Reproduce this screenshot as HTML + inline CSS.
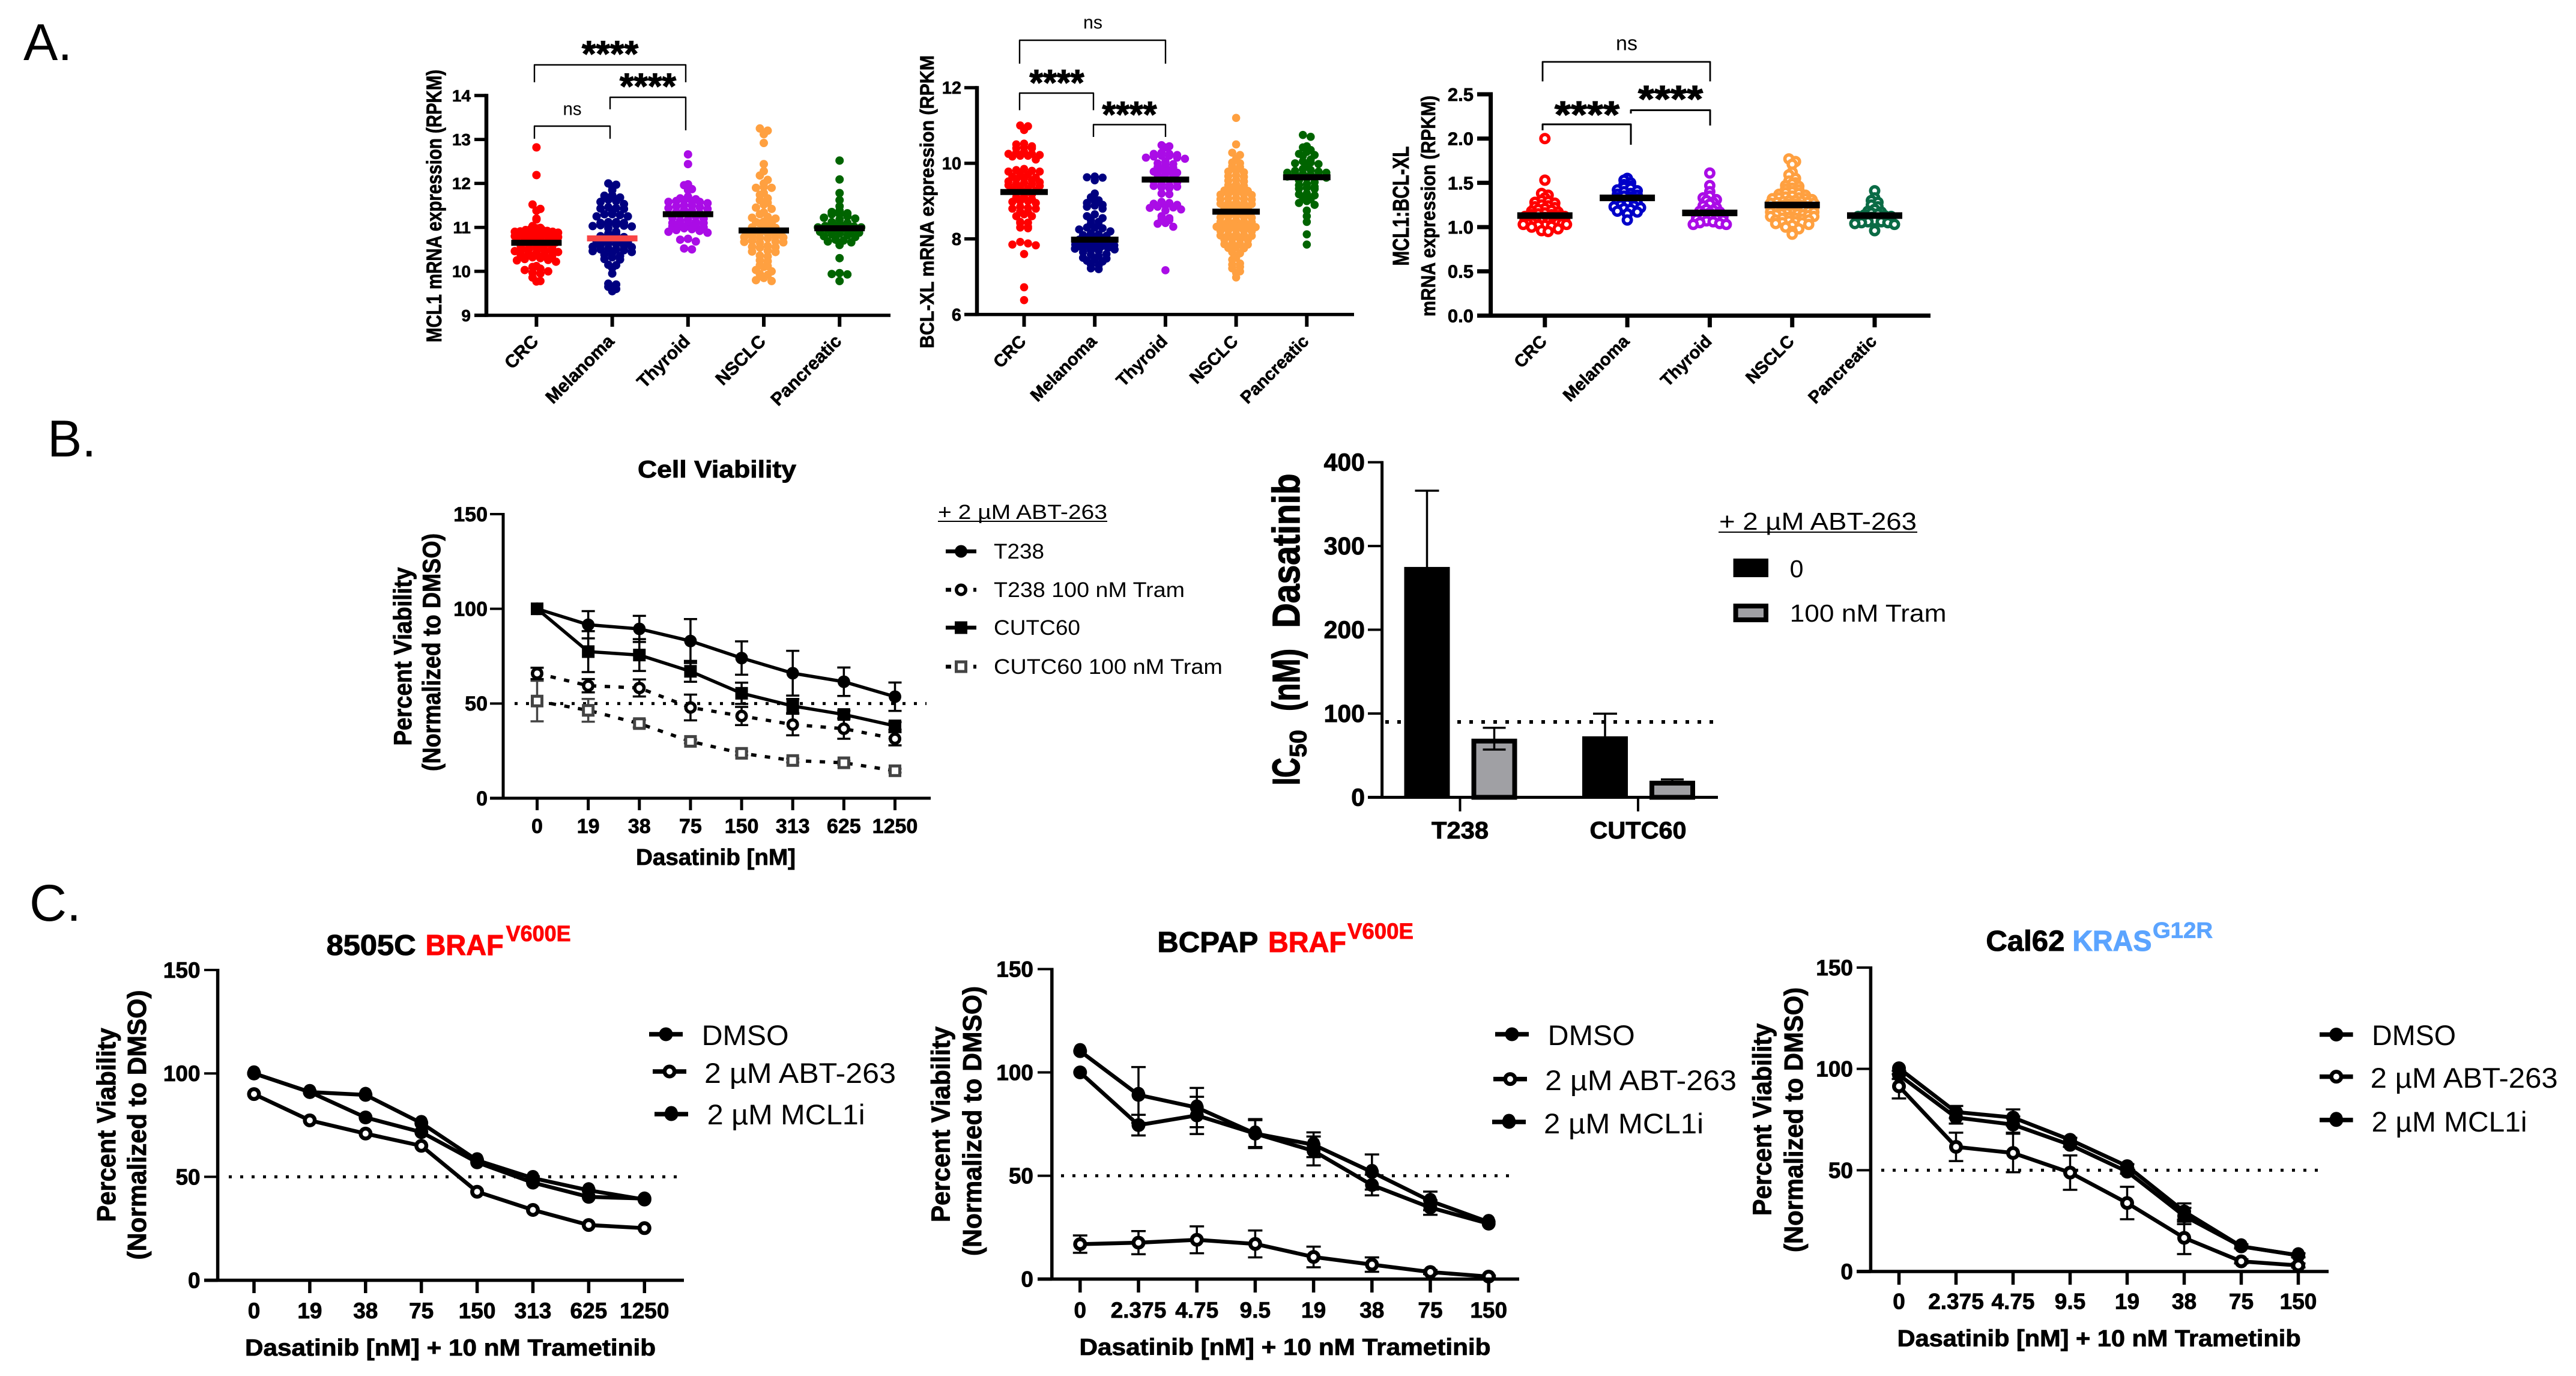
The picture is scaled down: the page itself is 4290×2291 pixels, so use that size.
<!DOCTYPE html>
<html lang="en">
<head>
<meta charset="utf-8">
<title>Dasatinib and BCL-XL / MCL1 figure</title>
<style>
html,body{margin:0;padding:0;background:#fff;}
svg{display:block;font-family:"Liberation Sans",Arial,sans-serif;}
</style>
</head>
<body>
<svg id="fig" xmlns="http://www.w3.org/2000/svg" width="4290" height="2291" viewBox="0 0 4290 2291">
  <rect x="0" y="0" width="4290" height="2291" fill="#ffffff"/>
  <text x="39" y="100" font-size="86" fill="#000">A.</text>
  <text x="79" y="760" font-size="86" fill="#000">B.</text>
  <text x="49" y="1533" font-size="86" fill="#000">C.</text>
  <g id="a1"></g>
  <g id="a2"></g>
  <g id="a3"></g>
  <g id="b1"></g>
  <g id="b2"></g>
  <g id="c1"></g>
  <g id="c2"></g>
  <g id="c3"></g>
</svg>
<script>
/* ---------- Panel A data ---------- */
const swarmCategories = ["CRC","Melanoma","Thyroid","NSCLC","Pancreatic"];

const mcl1Ticks = [9,10,11,12,13,14];
const mcl1Means = [10.65,10.75,11.3,10.93,10.98];
const mcl1Crc = [12.82,12.19,11.52,11.42,11.38,11.2,11.18,11.03,10.99,10.98,10.97,10.95,10.94,10.92,10.91,10.9,10.9,10.88,10.87,10.85,10.84,10.82,10.8,10.8,10.78,10.75,10.74,10.72,10.7,10.68,10.66,10.65,10.62,10.6,10.58,10.55,10.54,10.52,10.5,10.5,10.48,10.46,10.44,10.42,10.4,10.38,10.37,10.35,10.32,10.3,10.28,10.26,10.25,10.22,10.12,10.1,10.06,10.03,10.0,9.97,9.95,9.86,9.78,9.77];
const mcl1Mel = [12.0,11.97,11.93,11.85,11.73,11.72,11.68,11.63,11.6,11.58,11.53,11.46,11.44,11.43,11.42,11.35,11.3,11.3,11.28,11.25,11.25,11.12,11.12,11.1,11.1,11.08,11.06,11.05,11.04,11.03,11.02,10.98,10.9,10.86,10.85,10.8,10.78,10.76,10.72,10.7,10.68,10.66,10.63,10.62,10.6,10.58,10.56,10.55,10.52,10.5,10.5,10.48,10.46,10.44,10.42,10.38,10.35,10.32,10.28,10.27,10.15,10.14,10.08,9.95,9.72,9.7,9.65,9.6,9.55];
const mcl1Thy = [12.66,12.44,11.98,11.96,11.87,11.85,11.7,11.66,11.64,11.62,11.6,11.6,11.58,11.58,11.55,11.5,11.5,11.48,11.46,11.44,11.42,11.4,11.38,11.35,11.32,11.3,11.28,11.25,11.22,11.2,11.18,11.15,11.12,11.1,11.1,11.08,11.06,11.05,11.02,11.0,10.98,10.96,10.94,10.92,10.9,10.88,10.74,10.72,10.68,10.52,10.5];
const mcl1Nsclc = [13.25,13.2,13.12,12.92,12.44,12.28,12.18,12.08,12.0,11.92,11.9,11.9,11.78,11.74,11.66,11.62,11.56,11.52,11.45,11.42,11.34,11.3,11.24,11.22,11.2,11.13,11.12,11.1,11.09,11.02,11.0,10.99,10.98,10.92,10.9,10.89,10.88,10.87,10.86,10.8,10.79,10.78,10.77,10.76,10.75,10.7,10.68,10.67,10.66,10.65,10.58,10.56,10.55,10.54,10.47,10.45,10.44,10.36,10.34,10.25,10.23,10.14,10.12,10.1,10.03,10.0,9.94,9.92,9.85,9.8,9.78];
const mcl1Panc = [12.52,12.09,11.78,11.62,11.48,11.38,11.35,11.32,11.3,11.3,11.25,11.22,11.2,11.18,11.12,11.1,11.08,11.07,11.05,11.03,11.02,11.0,11.0,10.98,10.97,10.95,10.92,10.9,10.88,10.86,10.84,10.82,10.8,10.78,10.72,10.7,10.68,10.66,10.6,10.3,9.96,9.94,9.93,9.78];

const bclTicks = [6,8,10,12];
const bclMeans = [9.24,7.98,9.57,8.72,9.63];
const bclCrc = [11.0,10.98,10.88,10.52,10.5,10.45,10.42,10.4,10.4,10.3,10.28,10.25,10.25,10.22,10.2,10.2,10.18,10.1,9.85,9.82,9.8,9.78,9.78,9.72,9.7,9.65,9.62,9.6,9.58,9.55,9.52,9.5,9.48,9.45,9.45,9.42,9.4,9.35,9.32,9.3,9.28,9.25,9.2,9.18,9.12,9.1,9.05,9.0,9.0,8.98,8.95,8.85,8.82,8.8,8.8,8.72,8.7,8.65,8.6,8.6,8.45,8.43,8.42,8.32,8.3,8.28,7.92,7.88,7.85,7.83,7.6,6.72,6.38];
const bclMel = [9.65,9.63,9.62,9.55,9.2,9.1,9.02,9.0,8.95,8.9,8.88,8.85,8.8,8.65,8.6,8.55,8.5,8.45,8.4,8.35,8.3,8.3,8.28,8.25,8.2,8.15,8.12,8.1,8.08,8.05,8.02,8.0,7.98,7.95,7.92,7.9,7.88,7.86,7.85,7.83,7.82,7.8,7.8,7.78,7.76,7.74,7.72,7.7,7.68,7.65,7.6,7.58,7.55,7.5,7.48,7.45,7.42,7.4,7.32,7.3,7.22,7.2];
const bclThy = [10.48,10.45,10.42,10.28,10.25,10.25,10.22,10.2,10.2,10.18,10.15,10.15,10.12,10.05,10.0,9.98,9.95,9.9,9.88,9.85,9.82,9.78,9.75,9.72,9.7,9.68,9.6,9.55,9.52,9.5,9.45,9.42,9.4,9.38,9.36,9.34,9.2,9.18,8.98,8.95,8.93,8.9,8.88,8.85,8.83,8.82,8.78,8.75,8.6,8.55,8.52,8.5,8.42,8.4,8.32,7.17];
const bclNsclc = [11.2,10.5,10.28,10.22,10.12,10.02,10.0,9.92,9.9,9.8,9.78,9.76,9.68,9.66,9.64,9.56,9.54,9.52,9.44,9.42,9.4,9.32,9.3,9.28,9.27,9.2,9.19,9.18,9.17,9.16,9.08,9.07,9.06,9.05,9.04,8.96,8.95,8.94,8.93,8.92,8.84,8.83,8.82,8.81,8.72,8.71,8.7,8.69,8.6,8.59,8.58,8.57,8.56,8.48,8.47,8.46,8.45,8.44,8.36,8.35,8.34,8.33,8.32,8.31,8.24,8.23,8.22,8.21,8.2,8.12,8.11,8.1,8.09,8.08,8.0,7.99,7.98,7.97,7.88,7.87,7.86,7.85,7.78,7.76,7.75,7.65,7.62,7.5,7.45,7.35,7.32,7.26,7.22,7.14,7.1,6.98];
const bclPanc = [10.75,10.7,10.45,10.42,10.35,10.3,10.25,10.22,10.2,10.1,10.05,10.02,10.0,9.98,9.95,9.85,9.82,9.8,9.78,9.75,9.75,9.72,9.7,9.7,9.68,9.65,9.62,9.6,9.55,9.5,9.45,9.42,9.38,9.35,9.33,9.32,9.2,9.18,9.15,9.1,9.05,9.0,8.95,8.9,8.75,8.6,8.45,8.12,7.85];

const ratioTicks = [0,0.5,1.0,1.5,2.0,2.5];
const ratioMeans = [1.13,1.33,1.16,1.25,1.13];
const ratioCrc = [2.0,1.53,1.38,1.36,1.33,1.3,1.29,1.28,1.27,1.25,1.24,1.23,1.22,1.21,1.2,1.19,1.18,1.17,1.16,1.15,1.14,1.14,1.13,1.12,1.12,1.11,1.1,1.1,1.09,1.09,1.08,1.08,1.07,1.07,1.06,1.06,1.05,1.05,1.05,1.04,1.04,1.03,1.03,1.02,1.02,1.01,1.0,0.98,0.96,0.95];
const ratioMel = [1.55,1.53,1.5,1.48,1.46,1.45,1.44,1.42,1.41,1.4,1.38,1.37,1.36,1.35,1.34,1.33,1.32,1.3,1.29,1.28,1.27,1.26,1.25,1.24,1.23,1.22,1.21,1.2,1.18,1.17,1.15,1.08];
const ratioThy = [1.61,1.47,1.4,1.35,1.33,1.31,1.3,1.28,1.26,1.24,1.22,1.2,1.19,1.18,1.17,1.16,1.15,1.14,1.13,1.12,1.11,1.1,1.09,1.09,1.08,1.07,1.06,1.05,1.04,1.03,1.03];
const ratioNsclc = [1.77,1.74,1.71,1.62,1.59,1.55,1.52,1.5,1.49,1.47,1.46,1.44,1.43,1.42,1.4,1.39,1.38,1.37,1.36,1.35,1.34,1.33,1.33,1.32,1.32,1.31,1.3,1.3,1.29,1.29,1.28,1.28,1.27,1.27,1.26,1.26,1.25,1.25,1.24,1.24,1.23,1.23,1.22,1.22,1.21,1.21,1.2,1.2,1.19,1.19,1.18,1.18,1.17,1.17,1.16,1.16,1.15,1.15,1.14,1.14,1.13,1.12,1.12,1.11,1.1,1.1,1.09,1.08,1.08,1.07,1.06,1.05,1.05,1.04,1.03,1.02,1.0,0.98,0.95,0.92];
const ratioPanc = [1.41,1.33,1.3,1.28,1.25,1.23,1.2,1.18,1.17,1.16,1.15,1.14,1.13,1.12,1.12,1.11,1.1,1.09,1.08,1.07,1.06,1.06,1.05,1.05,1.04,1.03,0.96];

/* ---------- Panel B data ---------- */
const viabilityTicks = [0,50,100,150];
const cellDoses = ["0","19","38","75","150","313","625","1250"];
const t238Values = [100,91.6,89.4,83,74,66,61.5,53.6];
const t238Errors = [0,7.2,6.9,11.6,8.8,11.8,7.5,7.5];
const t238TramValues = [65.9,59.4,58.2,47.9,43.4,38.9,36.7,31.4];
const t238TramErrors = [3,3.5,4.5,6.8,4.8,5.7,5.3,3.5];
const cutcValues = [100,77.4,75.6,67,55.4,48.7,44.2,38.2];
const cutcErrors = [0,10.8,8.4,5.5,5.6,3.7,2,2];
const cutcTramValues = [51.3,46.4,39.4,30,23.7,19.9,18.7,14.5];
const cutcTramErrors = [10.7,6,2,1,1,1,1,1];

const ic50Ticks = [0,100,200,300,400];
const ic50Groups = ["T238","CUTC60"];
const ic50Zero = [275,72.8];
const ic50ZeroErrors = [91,27];
const ic50Tram = [70,19.8];
const ic50TramErrors = [13,1.5];

/* ---------- Panel C data ---------- */
const c8505Doses = ["0","19","38","75","150","313","625","1250"];
const c8505Dmso = [100,91,78.7,71.6,57,47.2,40.3,39.5];
const c8505Abt = [90,77.3,70.9,65,42.8,34,26.7,25.2];
const c8505Mcl = [100,91,89.6,76,58,49.4,43.5,39];

const bcpapDoses = ["0","2.375","4.75","9.5","19","38","75","150"];
const bcpapDmso = [100,74.5,79.2,70.4,62,45.5,34.6,26.8];
const bcpapDmsoErrors = [0,5,9,6.5,7,5,3.5,0];
const bcpapAbt = [16.9,17.6,19,17,10.7,7,3.4,1.2];
const bcpapAbtErrors = [4.2,5.6,6.5,6.5,5,3.5,1,0.5];
const bcpapMcl = [110.3,89.1,83,70.4,65,51.8,37.8,27.6];
const bcpapMclErrors = [0,13.5,9.5,7,6,8.5,4.5,0];

const cal62Doses = ["0","2.375","4.75","9.5","19","38","75","150"];
const cal62Dmso = [100.3,78.7,76,65,52,29.6,12.4,8];
const cal62DmsoErrors = [0,3,4,1,1,4,1,1];
const cal62Abt = [91.4,61.5,58.5,48.8,33.8,16.6,5,3];
const cal62AbtErrors = [6,7,9.5,8.5,8,8,1,1];
const cal62Mcl = [97,76,72.5,62.5,49.3,27.4,12.4,8];
const cal62MclErrors = [2,3,4,1,1,4,1,1];

/* ---------- helpers ---------- */
const NS = "http://www.w3.org/2000/svg";
function linear(d0,d1,r0,r1){ return v => r0 + (v-d0)/(d1-d0)*(r1-r0); }
function band(x0,step){ return i => x0 + i*step; }

function line(p,name,x1,y1,x2,y2,sw,color,dash){
  const el = document.createElementNS(NS,"line");
  
  
  el.setAttribute("x1",x1); el.setAttribute("y1",y1);
  el.setAttribute("x2",x2); el.setAttribute("y2",y2);
  el.setAttribute("stroke",color||"#000");
  el.setAttribute("stroke-width",sw);
  if(dash) el.setAttribute("stroke-dasharray",dash);
  p.appendChild(el);
  return el;
}
function text(p,name,str,x,y,o){
  o = o||{};
  const el = document.createElementNS(NS,"text");
  
  
  el.textContent = str;
  const size = o.size||30;
  const fill = o.fill||"#000";
  el.setAttribute("font-size",size);
  el.setAttribute("font-weight",o.weight||"normal");
  el.setAttribute("fill",fill);
  el.setAttribute("text-anchor",o.anchor||"start");
  if(o.weight==="bold"){
    el.setAttribute("stroke",fill);
    el.setAttribute("stroke-width",(size*0.022).toFixed(2));
  }
  if(o.len){
    el.setAttribute("textLength",o.len);
    el.setAttribute("lengthAdjust","spacingAndGlyphs");
  }
  if(o.rot!==undefined){
    el.setAttribute("transform","translate("+x+" "+y+") rotate("+o.rot+")");
    el.setAttribute("x",0); el.setAttribute("y",0);
  }else{
    el.setAttribute("x",x); el.setAttribute("y",y);
  }
  p.appendChild(el);
  return el;
}
function rect(p,name,x,y,w,h,fill,stroke,sw){
  const el = document.createElementNS(NS,"rect");
  
  
  el.setAttribute("x",x); el.setAttribute("y",y);
  el.setAttribute("width",w); el.setAttribute("height",h);
  el.setAttribute("fill",fill);
  if(stroke){ el.setAttribute("stroke",stroke); el.setAttribute("stroke-width",sw); }
  p.appendChild(el);
  return el;
}
function circle(p,name,x,y,r,fill,stroke,sw){
  const el = document.createElementNS(NS,"circle");
  
  
  el.setAttribute("cx",x); el.setAttribute("cy",y); el.setAttribute("r",r);
  el.setAttribute("fill",fill);
  if(stroke){ el.setAttribute("stroke",stroke); el.setAttribute("stroke-width",sw); }
  p.appendChild(el);
  return el;
}
function polyline(p,name,pts,sw,dash,color){
  const el = document.createElementNS(NS,"polyline");
  
  
  el.setAttribute("points",pts.map(q=>q[0]+","+q[1]).join(" "));
  el.setAttribute("fill","none");
  el.setAttribute("stroke",color||"#000");
  el.setAttribute("stroke-width",sw);
  el.setAttribute("stroke-linejoin","round");
  if(dash) el.setAttribute("stroke-dasharray",dash);
  p.appendChild(el);
  return el;
}
function bracket(p,name,x1,x2,y,yl,yr,sw){
  polyline(p,name,[[x1,yl],[x1,y],[x2,y],[x2,yr]],sw);
}
function marker(p,name,type,x,y,s){
  if(type==="dot"){ circle(p,name,x,y,s,"#000"); }
  else if(type==="ring"){ circle(p,name,x,y,s-3.25,"#fff","#000",6.5); }
  else if(type==="mcl"){ circle(p,name,x,y,s-3.25,"#fff","#000",6.5); circle(p,name+"-cap",x,y-3,s-1,"#000"); }
  else if(type==="square"){ rect(p,name,x-s,y-s,2*s,2*s,"#000"); }
  else if(type==="oring"){ circle(p,name,x,y,s-2.75,"#fff","#000",5.5); }
  else if(type==="osquare"){ rect(p,name,x-s+2.5,y-s+2.5,2*s-5,2*s-5,"#fff","#444",5); }
}

/* Bin values vertically and spread each bin symmetrically around the category centre. */
function swarm(values,toY,binPx,step,maxHalf){
  const bins = new Map();
  values.forEach(v=>{
    const k = Math.round(toY(v)/binPx);
    if(!bins.has(k)) bins.set(k,[]);
    bins.get(k).push(v);
  });
  const out = [];
  bins.forEach(list=>{
    const n = list.length;
    const gap = n>1 ? Math.min(step,2*maxHalf/(n-1)) : step;
    const offs = [];
    for(let i=0;i<n;i++) offs.push((i-(n-1)/2)*gap);
    offs.sort((a,b)=>Math.abs(a)-Math.abs(b));
    list.forEach((v,i)=>out.push({v:v,dx:offs[i]}));
  });
  return out;
}

function swarmChart(c){
  const g = document.getElementById(c.id);
  const y = linear(c.yMin,c.yMax,c.yBottom,c.yTop);
  const x = band(c.x0,c.xStep);
  c.series.forEach((vals,i)=>{
    const pts = swarm(vals,y,c.bin,c.step,c.half);
    pts.forEach(d=>{
      if(c.ring) circle(g,"data-point",x(i)+d.dx,y(d.v),c.r-2.8,"#fff",c.colors[i],5.6);
      else circle(g,"data-point",x(i)+d.dx,y(d.v),c.r,c.colors[i]);
    });
  });
  c.means.forEach((m,i)=>{
    rect(g,"mean-bar",x(i)-c.meanW/2,y(m)-c.meanH/2,c.meanW,c.meanH,(c.meanColors&&c.meanColors[i])||"#000");
  });
  line(g,"y-axis",c.axisX,c.yTop-c.axisH/2,c.axisX,c.yBottom+c.axisH/2,c.axisW);
  line(g,"x-axis",c.tickL,c.yBottom,c.axisR,c.yBottom,c.axisH);
  c.ticks.forEach(t=>{
    line(g,"y-tick",c.tickL,y(t),c.axisX,y(t),c.axisH);
    text(g,"y-tick-label",c.tickFmt(t),c.labelR,y(t)+c.tickSize*0.35,{size:c.tickSize,weight:"bold",anchor:"end"});
  });
  swarmCategories.forEach((n,i)=>{
    line(g,"x-tick",x(i),c.yBottom,x(i),c.tickB,c.catTickW);
    text(g,"category-label",n,x(i)+5,570,{size:c.catSize,weight:"bold",anchor:"end",rot:-45});
  });
}

function lineChart(c){
  const g = document.getElementById(c.id);
  const y = linear(0,150,c.y0,c.y150);
  const x = band(c.x0,c.xStep);
  line(g,"reference-line-50",c.dotL,y(50),c.dotR,y(50),c.dotW||5,"#000",c.dotDash||"5 14");
  c.series.forEach(s=>{
    s.values.forEach((v,i)=>{
      const e = s.errors ? s.errors[i] : 0;
      if(e>0){
        line(g,"error-bar",x(i),y(v+e),x(i),y(v-e),c.errW,s.errColor||"#000");
        line(g,"error-cap",x(i)-c.capW/2,y(v+e),x(i)+c.capW/2,y(v+e),c.errW,s.errColor||"#000");
        line(g,"error-cap",x(i)-c.capW/2,y(v-e),x(i)+c.capW/2,y(v-e),c.errW,s.errColor||"#000");
      }
    });
  });
  c.series.forEach(s=>{
    polyline(g,"series-line-"+s.key,s.values.map((v,i)=>[x(i),y(v)]),c.lineW,s.dash);
  });
  c.series.forEach(s=>{
    s.values.forEach((v,i)=>marker(g,"data-point-"+s.key,s.marker,x(i),y(v),c.r));
  });
  line(g,"y-axis",c.axisX,c.y150-2,c.axisX,c.y0+2,c.axisW);
  line(g,"x-axis",c.tickL,c.y0,c.axisR,c.y0,c.axisH);
  viabilityTicks.forEach(t=>{
    line(g,"y-tick",c.tickL,y(t),c.axisX,y(t),t===0?c.axisH:4);
    text(g,"y-tick-label",String(t),c.labelR,y(t)+c.tickSize*0.35,{size:c.tickSize,weight:"bold",anchor:"end"});
  });
  c.doses.forEach((d,i)=>{
    line(g,"x-tick",x(i),c.y0,x(i),c.tickB,c.axisW);
    text(g,"x-tick-label",d,x(i),c.xLabelY,{size:c.tickSize,weight:"bold",anchor:"middle"});
  });
  text(g,"x-axis-title",c.xTitle,c.xTitleX,c.xTitleY,{size:c.xTitleSize,weight:"bold",anchor:"middle",len:c.xTitleLen});
  text(g,"y-axis-title-line-1","Percent Viability",c.yt1X,c.yt1Y,{size:c.ytSize,weight:"bold",anchor:"middle",rot:-90,len:c.yt1Len});
  text(g,"y-axis-title-line-2","(Normalized to DMSO)",c.yt2X,c.yt2Y,{size:c.ytSize,weight:"bold",anchor:"middle",rot:-90,len:c.yt2Len});
  c.legend.forEach(l=>{
    const s = l.series;
    polyline(g,"legend-line-"+s.key,[[l.x1,l.y],[l.x2,l.y]],c.lineW+1,s.dash);
    marker(g,"legend-marker-"+s.key,s.marker,(l.x1+l.x2)/2,l.y,c.r);
    text(g,"legend-label-"+s.key,l.label,l.tx,l.ty,{size:c.legendSize,len:l.tlen});
  });
}

/* ---------- Panel A charts ---------- */
swarmChart({id:"a1",series:[mcl1Crc,mcl1Mel,mcl1Thy,mcl1Nsclc,mcl1Panc],means:mcl1Means,
  meanColors:["#000","#f94444","#000","#000","#000"],
  colors:["#ff0000","#000080","#aa0ce6","#ffa040","#006400"],
  ticks:mcl1Ticks,tickFmt:t=>String(t),yMin:9,yMax:14,yBottom:525,yTop:159,
  x0:893.4,xStep:126.2,bin:8,step:13,half:36,r:7,meanW:84,meanH:10,
  axisX:810,axisW:6.5,axisH:5.5,tickL:790,axisR:1483,tickB:544,catTickW:6,labelR:784,tickSize:28,catSize:30});
swarmChart({id:"a2",series:[bclCrc,bclMel,bclThy,bclNsclc,bclPanc],means:bclMeans,
  colors:["#ff0000","#000080","#aa0ce6","#ffa040","#006400"],
  ticks:bclTicks,tickFmt:t=>String(t),yMin:6,yMax:12,yBottom:523.6,yTop:146,
  x0:1705.5,xStep:117.7,bin:7.5,step:13,half:33,r:6.8,meanW:79,meanH:10,
  axisX:1627,axisW:6.5,axisH:5.5,tickL:1606,axisR:2255,tickB:544,catTickW:6,labelR:1601,tickSize:29,catSize:29});
swarmChart({id:"a3",ring:true,series:[ratioCrc,ratioMel,ratioThy,ratioNsclc,ratioPanc],means:ratioMeans,
  colors:["#ff0000","#0000c8","#aa0ce6","#ffa040","#0a6b45"],
  ticks:ratioTicks,tickFmt:t=>t.toFixed(1),yMin:0,yMax:2.5,yBottom:525.5,yTop:157,
  x0:2572.8,xStep:137.3,bin:7,step:11,half:36,r:9.5,meanW:92,meanH:11,
  axisX:2482.6,axisW:7,axisH:7,tickL:2460,axisR:3215,tickB:545,catTickW:7,labelR:2454,tickSize:31,catSize:29});

(function(){
  const a1 = document.getElementById("a1");
  const a2 = document.getElementById("a2");
  const a3 = document.getElementById("a3");
  text(a1,"y-axis-title","MCL1 mRNA expression (RPKM)",735,343,{size:35,weight:"bold",anchor:"middle",rot:-90,len:454});
  bracket(a1,"significance-bracket",890,1142,108,137,137,2.4);
  bracket(a1,"significance-bracket",1016,1142,162,182,217,2.4);
  bracket(a1,"significance-bracket",890,1016,210,231,231,2.4);
  text(a1,"significance-stars","****",1016,110,{size:60,weight:"bold",anchor:"middle",len:94});
  text(a1,"significance-stars","****",1079,164,{size:60,weight:"bold",anchor:"middle",len:94});
  text(a1,"significance-ns","ns",953,191.5,{size:31,anchor:"middle",len:31});

  text(a2,"y-axis-title","BCL-XL mRNA expression (RPKM",1555,336,{size:32,weight:"bold",anchor:"middle",rot:-90,len:488});
  bracket(a2,"significance-bracket",1698,1941,67,106,106,2.4);
  bracket(a2,"significance-bracket",1698,1821,155,183.5,183.5,2.4);
  bracket(a2,"significance-bracket",1821,1941,207.5,228,228,2.4);
  text(a2,"significance-stars","****",1760,158,{size:60,weight:"bold",anchor:"middle",len:91});
  text(a2,"significance-stars","****",1881,211,{size:60,weight:"bold",anchor:"middle",len:91});
  text(a2,"significance-ns","ns",1820,47.6,{size:31,anchor:"middle",len:32});

  text(a3,"y-axis-title-line-1","MCL1:BCL-XL",2346,343,{size:38,weight:"bold",anchor:"middle",rot:-90,len:199});
  text(a3,"y-axis-title-line-2","mRNA expression (RPKM)",2390,343,{size:33,weight:"bold",anchor:"middle",rot:-90,len:368});
  bracket(a3,"significance-bracket",2569,2848,103,135.5,135.5,2.8);
  bracket(a3,"significance-bracket",2569,2716,207,217,241,3);
  bracket(a3,"significance-bracket",2716,2848,183.5,189,209,3);
  text(a3,"significance-stars","****",2643,212,{size:62,weight:"bold",anchor:"middle",len:108});
  text(a3,"significance-stars","****",2782,186,{size:62,weight:"bold",anchor:"middle",len:108});
  text(a3,"significance-ns","ns",2709,83.4,{size:34,anchor:"middle",len:36});
})();

/* ---------- Panel B line chart ---------- */
(function(){
  const sT = {key:"t238",values:t238Values,errors:t238Errors,marker:"dot"};
  const sTT = {key:"t238-tram",values:t238TramValues,errors:t238TramErrors,marker:"oring",dash:"9 14"};
  const sC = {key:"cutc60",values:cutcValues,errors:cutcErrors,marker:"square"};
  const sCT = {key:"cutc60-tram",values:cutcTramValues,errors:cutcTramErrors,marker:"osquare",dash:"9 14",errColor:"#444"};
  lineChart({id:"b1",doses:cellDoses,series:[sCT,sTT,sC,sT],y0:1329,y150:856,x0:894.5,xStep:85.14,
    dotL:857,dotR:1543,errW:3.5,capW:22,lineW:5.5,r:10.5,axisX:838,axisW:5,axisH:5,tickL:816,axisR:1550,tickB:1349,
    labelR:812,tickSize:34,xLabelY:1387,xTitle:"Dasatinib [nM]",xTitleX:1192,xTitleY:1440,xTitleSize:38,xTitleLen:266,
    ytSize:42,yt1X:685,yt1Y:1093,yt1Len:297,yt2X:733,yt2Y:1086,yt2Len:396,legendSize:35,
    legend:[
      {series:sT,label:"T238",x1:1575,x2:1626,y:918,tx:1655,ty:930,tlen:84},
      {series:sTT,label:"T238 100 nM Tram",x1:1575,x2:1626,y:982,tx:1655,ty:994,tlen:318},
      {series:sC,label:"CUTC60",x1:1575,x2:1626,y:1045,tx:1655,ty:1057,tlen:144},
      {series:sCT,label:"CUTC60 100 nM Tram",x1:1575,x2:1626,y:1110,tx:1655,ty:1122,tlen:381}
    ]});
  const g = document.getElementById("b1");
  text(g,"chart-title","Cell Viability",1194,795,{size:40,weight:"bold",anchor:"middle",len:264});
  text(g,"legend-title","+ 2 µM ABT-263",1562,864,{size:34,len:282});
  line(g,"legend-title-underline",1562,868,1844,868,2);
})();

/* ---------- Panel B bar chart ---------- */
(function(){
  const g = document.getElementById("b2");
  const y = linear(0,400,1327.5,769.6);
  const cx = band(2431.5,296.5);
  const barW = 76;
  line(g,"reference-line-ic50",2307,1202,2860,1202,6,"#000","6 14");
  ic50Groups.forEach((n,i)=>{
    const c0 = cx(i)-55, c1 = cx(i)+57;
    const top0 = y(ic50Zero[i]), top1 = y(ic50Tram[i]);
    rect(g,"bar-"+n+"-0",c0-barW/2,top0,barW,y(0)-top0,"#000");
    const et0 = y(ic50Zero[i]+ic50ZeroErrors[i]);
    line(g,"error-bar",c0,et0,c0,top0,3.5);
    line(g,"error-cap",c0-20,et0,c0+20,et0,3.5);
    rect(g,"bar-"+n+"-tram",c1-barW/2+4,top1+4,barW-8,y(0)-top1-4,"#a0a0a4","#000",8);
    const et1 = y(ic50Tram[i]+ic50TramErrors[i]), eb1 = y(ic50Tram[i]-ic50TramErrors[i]);
    line(g,"error-bar",c1,et1,c1,eb1,3.5);
    line(g,"error-cap",c1-19,et1,c1+19,et1,3.5);
    line(g,"error-cap",c1-19,eb1,c1+19,eb1,3.5);
    line(g,"x-tick",cx(i),y(0),cx(i),1351,4);
    text(g,"x-tick-label",n,cx(i),1396,{size:40,weight:"bold",anchor:"middle",len:i===0?95:161});
  });
  line(g,"y-axis",2301.6,y(400)-2,2301.6,y(0)+2,5);
  line(g,"x-axis",2278,y(0),2861,y(0),5);
  ic50Ticks.forEach(t=>{
    line(g,"y-tick",2278,y(t),2301.6,y(t),4);
    text(g,"y-tick-label",String(t),2273,y(t)+14,{size:41,weight:"bold",anchor:"end"});
  });
  text(g,"y-axis-title-ic","IC",2164,1284.5,{size:64,weight:"bold",anchor:"middle",rot:-90,len:46});
  text(g,"y-axis-title-subscript","50",2175.6,1238,{size:40,weight:"bold",anchor:"middle",rot:-90,len:46});
  text(g,"y-axis-title-nm","(nM)",2164,1132,{size:64,weight:"bold",anchor:"middle",rot:-90,len:104});
  text(g,"y-axis-title-drug","Dasatinib",2164,917,{size:64,weight:"bold",anchor:"middle",rot:-90,len:257});
  text(g,"legend-title","+ 2 µM ABT-263",2863,882,{size:41,len:329});
  line(g,"legend-title-underline",2862,886,3193,886,2);
  rect(g,"legend-swatch-0",2886.6,930,58.4,31,"#000");
  rect(g,"legend-swatch-tram",2890.6,1009,50.4,23,"#a0a0a4","#000",8);
  text(g,"legend-label-0","0",2980.6,961,{size:41});
  text(g,"legend-label-tram","100 nM Tram",2980.6,1035,{size:41,len:261});
})();

/* ---------- Panel C charts ---------- */
(function(){
  const xTitle = "Dasatinib [nM] + 10 nM Trametinib";
  const mk = (key,values,errors,m) => ({key:key,values:values,errors:errors,marker:m});

  const a1 = mk("abt-263",c8505Abt,null,"ring"), m1 = mk("mcl1i",c8505Mcl,null,"mcl"), d1 = mk("dmso",c8505Dmso,null,"dot");
  lineChart({id:"c1",doses:c8505Doses,series:[a1,m1,d1],y0:2131.6,y150:1615,x0:423,xStep:92.9,
    dotL:381,dotR:1132,errW:3.5,capW:24,lineW:6.5,r:11.5,axisX:362.6,axisW:5.5,axisH:5.5,tickL:340,axisR:1139,tickB:2153,
    labelR:333.6,tickSize:37,xLabelY:2195,xTitle:xTitle,xTitleX:750,xTitleY:2257,xTitleSize:39,xTitleLen:684,
    ytSize:44,yt1X:192,yt1Y:1873,yt1Len:323,yt2X:243,yt2Y:1873,yt2Len:449,legendSize:47,
    legend:[
      {series:d1,label:"DMSO",x1:1081,x2:1137,y:1722,tx:1168.6,ty:1740,tlen:145},
      {series:a1,label:"2 µM ABT-263",x1:1087,x2:1143,y:1784,tx:1173,ty:1803,tlen:319},
      {series:m1,label:"2 µM MCL1i",x1:1090,x2:1146,y:1855,tx:1177.6,ty:1872,tlen:263}
    ]});
  const gc1 = document.getElementById("c1");
  text(gc1,"title-cell-line","8505C",543.7,1590,{size:48,weight:"bold",len:149});
  text(gc1,"title-mutation","BRAF",708.6,1590,{size:48,weight:"bold",fill:"#ff0000",len:130});
  text(gc1,"title-mutation-superscript","V600E",842.6,1567,{size:37,weight:"bold",fill:"#ff0000",len:108});

  const a2 = mk("abt-263",bcpapAbt,bcpapAbtErrors,"ring"), m2 = mk("mcl1i",bcpapMcl,bcpapMclErrors,"mcl"), d2 = mk("dmso",bcpapDmso,bcpapDmsoErrors,"dot");
  lineChart({id:"c2",doses:bcpapDoses,series:[a2,d2,m2],y0:2129.6,y150:1613.5,x0:1798.8,xStep:97.2,
    dotL:1767,dotR:2519,errW:3.5,capW:24,lineW:6.5,r:11.5,axisX:1751.8,axisW:5.5,axisH:5.5,tickL:1728,axisR:2530,tickB:2152,
    labelR:1721,tickSize:37,xLabelY:2194,xTitle:xTitle,xTitleX:2140,xTitleY:2256,xTitleSize:39,xTitleLen:685,
    ytSize:44,yt1X:1581.5,yt1Y:1872,yt1Len:326,yt2X:1634,yt2Y:1866.5,yt2Len:449,legendSize:47,
    legend:[
      {series:d2,label:"DMSO",x1:2490,x2:2546,y:1722,tx:2577.7,ty:1740,tlen:145},
      {series:a2,label:"2 µM ABT-263",x1:2487,x2:2543,y:1796.6,tx:2573,ty:1815,tlen:319},
      {series:m2,label:"2 µM MCL1i",x1:2485,x2:2541,y:1868,tx:2571,ty:1887,tlen:266}
    ]});
  const gc2 = document.getElementById("c2");
  text(gc2,"title-cell-line","BCPAP",1927.4,1585,{size:48,weight:"bold",len:168});
  text(gc2,"title-mutation","BRAF",2112,1585,{size:48,weight:"bold",fill:"#ff0000",len:130});
  text(gc2,"title-mutation-superscript","V600E",2244,1563,{size:37,weight:"bold",fill:"#ff0000",len:110});

  const a3 = mk("abt-263",cal62Abt,cal62AbtErrors,"ring"), m3 = mk("mcl1i",cal62Mcl,cal62MclErrors,"mcl"), d3 = mk("dmso",cal62Dmso,cal62DmsoErrors,"dot");
  lineChart({id:"c3",doses:cal62Doses,series:[a3,m3,d3],y0:2117,y150:1611,x0:3162.5,xStep:95,
    dotL:3133,dotR:3871,errW:3.5,capW:24,lineW:6.5,r:11.5,axisX:3115.4,axisW:5.5,axisH:5.5,tickL:3092,axisR:3878,tickB:2139,
    labelR:3086,tickSize:37,xLabelY:2179.6,xTitle:xTitle,xTitleX:3495.7,xTitleY:2241.6,xTitleSize:39,xTitleLen:672,
    ytSize:44,yt1X:2949.7,yt1Y:1864,yt1Len:320,yt2X:3002,yt2Y:1864.5,yt2Len:441,legendSize:47,
    legend:[
      {series:d3,label:"DMSO",x1:3863,x2:3918.6,y:1722.5,tx:3950,ty:1740,tlen:140},
      {series:a3,label:"2 µM ABT-263",x1:3863,x2:3918.6,y:1792.6,tx:3947.7,ty:1811,tlen:312},
      {series:m3,label:"2 µM MCL1i",x1:3863,x2:3918.6,y:1864.7,tx:3949.5,ty:1884,tlen:259}
    ]});
  const gc3 = document.getElementById("c3");
  text(gc3,"title-cell-line","Cal62",3307.4,1583,{size:48,weight:"bold",len:131});
  text(gc3,"title-mutation","KRAS",3451.4,1583,{size:48,weight:"bold",fill:"#5ba4ff",len:132});
  text(gc3,"title-mutation-superscript","G12R",3585,1561.5,{size:37,weight:"bold",fill:"#5ba4ff",len:100});
})();
</script>
</body>
</html>
